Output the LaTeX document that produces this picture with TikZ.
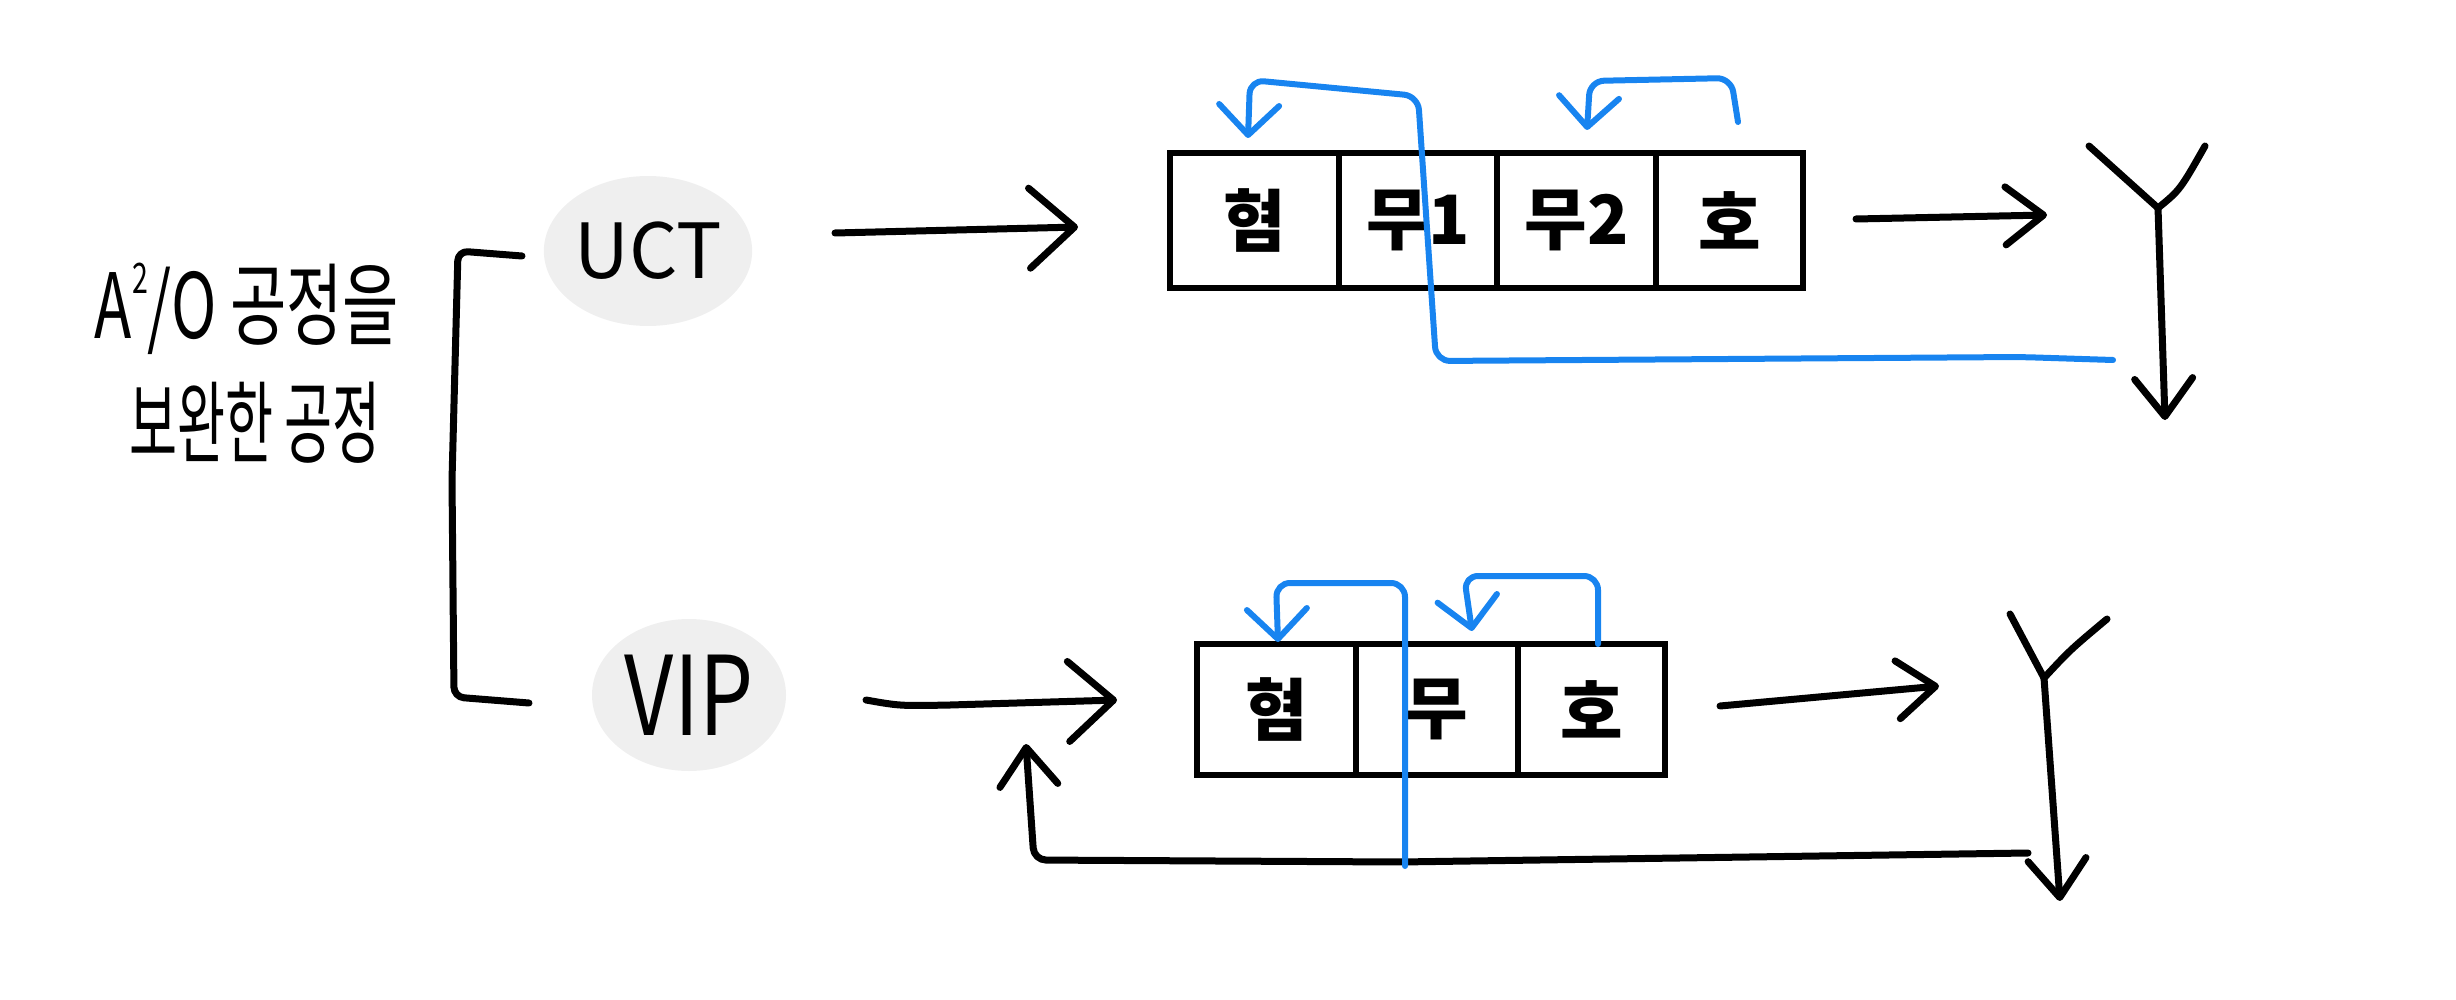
\documentclass[tikz,border=0pt]{standalone}
\usepackage{fontspec}
\setmainfont{Noto Sans CJK KR}
\usetikzlibrary{arrows.meta,shapes.geometric}
\definecolor{bluepen}{HTML}{1884F0}
\definecolor{blob}{HTML}{EFEFEF}
\begin{document}
\begin{tikzpicture}[x=1pt,y=-1pt,
  ink/.style={draw=black,line width=7pt,line cap=round,line join=round},
  bl/.style={draw=bluepen,line width=6pt,line cap=round,line join=round,rounded corners=14pt},
  bigtip/.style={-{Straight Barb[round,length=45pt,width=80pt]}},
  midtip/.style={-{Straight Barb[round,length=38pt,width=58pt]}},
  bluetip/.style={-{Straight Barb[round,length=30pt,width=60pt]}},
  cell/.style={draw=black,line width=6pt,inner sep=0pt,anchor=center,
    font=\fontsize{68}{68}\selectfont\bfseries},
  topcell/.style={cell,minimum height=135pt},
  botcell/.style={cell,minimum height=131pt},
  bubble/.style={ellipse,fill=blob,draw=none,inner sep=0pt},
  title/.style={font=\fontsize{90}{90}\selectfont,inner sep=0pt}
]
\useasboundingbox (0,0) rectangle (2456,1000);

% title
\node[title,xscale=0.68] (t1) at (247,309) {A\raisebox{0.5em}{\fontsize{42}{42}\selectfont 2}/O 공정을};
\node[title,xscale=0.58] (t2) at (255,423) {보완한 공정};

% bracket
\coordinate (brt) at (522,256);
\coordinate (brb) at (529,703);
\draw[ink,rounded corners=10pt] (brt) -- (458,251) -- (452,480) -- (454,697) -- (brb);

% bubbles
\node[bubble,minimum width=162pt,minimum height=150pt,font=\fontsize{76}{76}\selectfont] (uct) at (648,251) {UCT};
\node[bubble,minimum width=194pt,minimum height=152pt,font=\fontsize{90}{90}\selectfont] (vip) at (689,695) {\scalebox{0.95}[1.22]{VIP}};

% top row cells
\node[topcell,minimum width=169pt] (h1) at (1254.5,220.5) {혐};
\node[topcell,minimum width=158pt] (w1) at (1418,220.5) {무1};
\node[topcell,minimum width=159pt] (w2) at (1576.5,220.5) {무2};
\node[topcell,minimum width=147pt] (o1) at (1729.5,220.5) {호};

% bottom row cells
\node[botcell,minimum width=159pt] (h2) at (1276.5,709.5) {혐};
\node[botcell,minimum width=162pt] (w3) at (1437,709.5) {무};
\node[botcell,minimum width=147pt] (o2) at (1591.5,709.5) {호};

% top arrows
\coordinate (a1s) at (835,233);
\coordinate (a1t) at (1078,227);
\draw[ink,bigtip] (a1s) -- (a1t);
\coordinate (a2s) at (1856,219);
\coordinate (a2t) at (2047,215);
\draw[ink,midtip] (a2s) -- (a2t);

% top Y
\coordinate (y1l) at (2089,146);
\coordinate (y1r) at (2205,146);
\coordinate (y1j) at (2158,208);
\coordinate (y1b) at (2165,420);
\draw[ink] (y1l) -- (y1j);
\draw[ink] (y1r) .. controls (2180,190) .. (y1j);
\draw[ink,midtip] (y1j) -- (y1b);

% bottom arrows
\coordinate (a3s) at (866,700);
\coordinate (a3t) at (1117,700);
\draw[ink,bigtip] (a3s) .. controls (900,706) .. (950,705) -- (a3t);
\coordinate (a4s) at (1720,706);
\coordinate (a4t) at (1939,686);
\draw[ink,midtip] (a4s) -- (a4t);

% bottom Y
\coordinate (y2l) at (2010,614);
\coordinate (y2r) at (2107,619);
\coordinate (y2j) at (2044,678);
\coordinate (y2b) at (2060,901);
\draw[ink] (y2l) -- (y2j);
\draw[ink] (y2r) .. controls (2070,650) .. (y2j);
\draw[ink,midtip] (y2j) -- (y2b);

% bottom feedback
\coordinate (fbs) at (2028,853);
\coordinate (fbt) at (1026,744);
\draw[ink,midtip,rounded corners=12pt] (fbs) -- (1400,862) -- (1034,860) -- (fbt);

% blue loops top
\coordinate (b1s) at (2113,360);
\coordinate (b1t) at (1248,138);
\draw[bl,bluetip] (b1s) -- (2020,357) -- (1436,361) -- (1418,96) -- (1250,80) -- (b1t);
\coordinate (b2s) at (1738,122);
\coordinate (b2t) at (1587,130);
\draw[bl,bluetip] (b2s) -- (1731,78) -- (1590,81) -- (b2t);

% blue loops bottom
\coordinate (b3s) at (1405,866);
\coordinate (b3t) at (1278,642);
\draw[bl,bluetip] (b3s) -- (1405,583) -- (1276,583) -- (b3t);
\coordinate (b4s) at (1598,644);
\coordinate (b4t) at (1472,631);
\draw[bl,bluetip] (b4s) -- (1598,576) -- (1464,576) -- (b4t);
\end{tikzpicture}
\end{document}
